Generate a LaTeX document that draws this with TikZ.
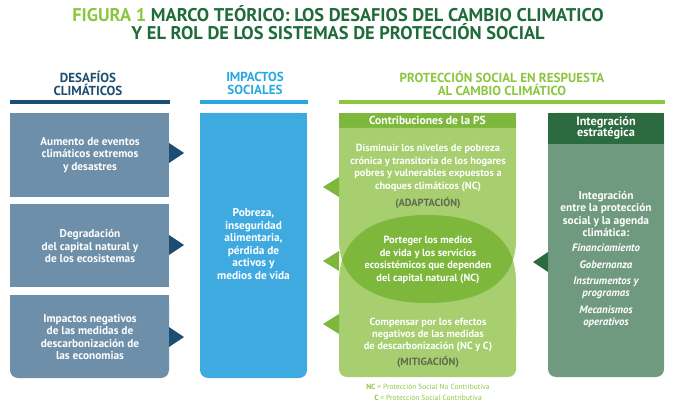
\documentclass[tikz,border=0pt]{standalone}
\usepackage{fontspec}
\setmainfont{PT Sans}
\usetikzlibrary{positioning}

\definecolor{slate}{HTML}{6E8FA9}
\definecolor{navy}{HTML}{1D4E72}
\definecolor{skyblue}{HTML}{3FAAE0}
\definecolor{skytext}{HTML}{29A8E0}
\definecolor{leaf}{HTML}{A7CE6F}
\definecolor{leafdark}{HTML}{7DB83D}
\definecolor{leaftext}{HTML}{8CC63F}
\definecolor{forest}{HTML}{2C6B40}
\definecolor{sage}{HTML}{709A80}
\definecolor{titlegreen}{HTML}{1F6B3A}
\definecolor{graytext}{HTML}{5F6A52}

\begin{document}
\begin{tikzpicture}[x=0.75pt,y=-0.75pt,
  boxtext/.style={text=white,font=\fontsize{7.8}{9.3}\selectfont\bfseries,align=center,inner sep=0pt},
  bigtext/.style={boxtext,font=\fontsize{8.5}{9.4}\selectfont\bfseries},
  head/.style={font=\fontsize{9.8}{9.8}\selectfont\bfseries,align=center,inner sep=0pt},
  bar/.style={line width=2.3pt}]
\useasboundingbox (0,0) rectangle (675,410);

% title
\node[font=\fontsize{13.8}{13.5}\selectfont\bfseries,text=titlegreen,align=center,inner sep=0pt] (title) at (338,23)
  {\textcolor{leaftext}{FIGURA 1} MARCO TEÓRICO: LOS DESAFIOS DEL CAMBIO CLIMATICO\\
   Y EL ROL DE LOS SISTEMAS DE PROTECCIÓN SOCIAL};

% column headers
\node[head,text=navy] (hdesafios) at (88,83) {DESAFÍOS\\CLIMÁTICOS};
\node[head,text=skytext] (himpactos) at (255,83) {IMPACTOS\\SOCIALES};
\node[head,text=leaftext] (hproteccion) at (502,83) {PROTECCIÓN SOCIAL EN RESPUESTA\\AL CAMBIO CLIMÁTICO};
\draw[bar,navy] (10,102) -- (170,102);
\draw[bar,skytext] (200,102) -- (308,102);
\draw[bar,leaftext] (339,102) -- (665,102);

% climate challenges
\fill[slate] (10,113) rectangle (169,197);
\fill[slate] (10,204) rectangle (169,287);
\fill[slate,rounded corners=6pt] (10,295) rectangle (169,378);
\fill[slate] (10,295) rectangle (169,340);
\node[bigtext] (d1) at (90,155) {Aumento de eventos\\climáticos extremos\\y desastres};
\node[bigtext] (d2) at (90,246) {Degradación\\del capital natural y\\de los ecosistemas};
\node[bigtext] (d3) at (90,337) {Impactos negativos\\de las medidas de\\descarbonización de\\las economias};
\fill[navy] (169,143) -- (184,153) -- (169,163) -- cycle;
\fill[navy] (169,235) -- (184,245) -- (169,255) -- cycle;
\fill[navy] (169,327) -- (184,337) -- (169,347) -- cycle;

% social impacts
\fill[skyblue,rounded corners=6pt] (200,113) rectangle (307,378);
\fill[skyblue] (200,113) rectangle (307,300);
\node[bigtext] (imp) at (253.5,244) {Pobreza,\\inseguridad\\alimentaria,\\pérdida de\\activos y\\medios de vida};

% contributions of social protection
\fill[leafdark] (339,113) rectangle (516,128);
\fill[leaf] (339,128) -- (516,128) -- (516,240) .. controls (516,288) and (472,303) .. (427.5,303)
  .. controls (383,303) and (339,288) .. (339,240) -- cycle;
\fill[leaf] (339,282) .. controls (339,230) and (383,215) .. (427.5,215)
  .. controls (472,215) and (516,230) .. (516,282) -- (516,330) -- (339,330) -- cycle;
\fill[leaf,rounded corners=6pt] (339,300) rectangle (516,377);
\begin{scope}
  \clip (339,128) -- (516,128) -- (516,240) .. controls (516,288) and (472,303) .. (427.5,303)
    .. controls (383,303) and (339,288) .. (339,240) -- cycle;
  \fill[leafdark] (339,282) .. controls (339,230) and (383,215) .. (427.5,215)
    .. controls (472,215) and (516,230) .. (516,282) -- (516,377) -- (339,377) -- cycle;
\end{scope}
\node[boxtext,font=\fontsize{8.7}{9.3}\selectfont\bfseries] (contrib) at (427.5,120.5) {Contribuciones de la PS};
\node[boxtext] (adapt) at (428,168) {Disminuir los niveles de pobreza\\crónica y transitoria de los hogares\\pobres y vulnerables expuestos a\\choques climáticos (NC)};
\node[boxtext,text=graytext] (adaptlbl) at (428,203) {(ADAPTACIÓN)};
\node[boxtext] (protect) at (428,260) {Porteger los medios\\de vida y los servicios\\ecosistémicos que dependen\\del capital natural (NC)};
\node[boxtext] (comp) at (428,335) {Compensar por los efectos\\negativos de las medidas\\de descarbonización (NC y C)};
\node[boxtext,text=graytext] (mitiglbl) at (428,362) {(MITIGACIÓN)};
\fill[leafdark] (339,177) -- (323,187) -- (339,197) -- cycle;
\fill[leafdark] (339,251) -- (323,261) -- (339,271) -- cycle;
\fill[leafdark] (339,314) -- (323,324) -- (339,334) -- cycle;

% strategic integration
\fill[sage,rounded corners=6pt] (548,113) rectangle (664,377);
\fill[sage] (548,113) rectangle (664,300);
\fill[forest] (548,113) rectangle (664,144);
\node[boxtext,font=\fontsize{9.2}{8.6}\selectfont\bfseries] (integ) at (606,128) {Integración\\estratégica};
\node[boxtext,font=\fontsize{8.5}{9.3}\selectfont\bfseries] (agenda) at (606,214) {Integración\\entre la protección\\social y la agenda\\climática:};
\node[boxtext,font=\fontsize{8.1}{9.3}\selectfont\bfseries\itshape] (ejes) at (606,286)
  {Financiamiento\\[3pt] Gobernanza\\[3pt] Instrumentos y\\programas\\[3pt] Mecanismos\\operativos};
\fill[forest] (548,252) -- (533,262) -- (548,272) -- cycle;

% notes
\node[text=leaftext,font=\fontsize{5.6}{8.2}\selectfont,align=center,inner sep=0pt] (notes) at (428,392)
  {\textbf{NC} = Protección Social No Contributiva\\\textbf{C} = Protección Social Contributiva};
\end{tikzpicture}
\end{document}
